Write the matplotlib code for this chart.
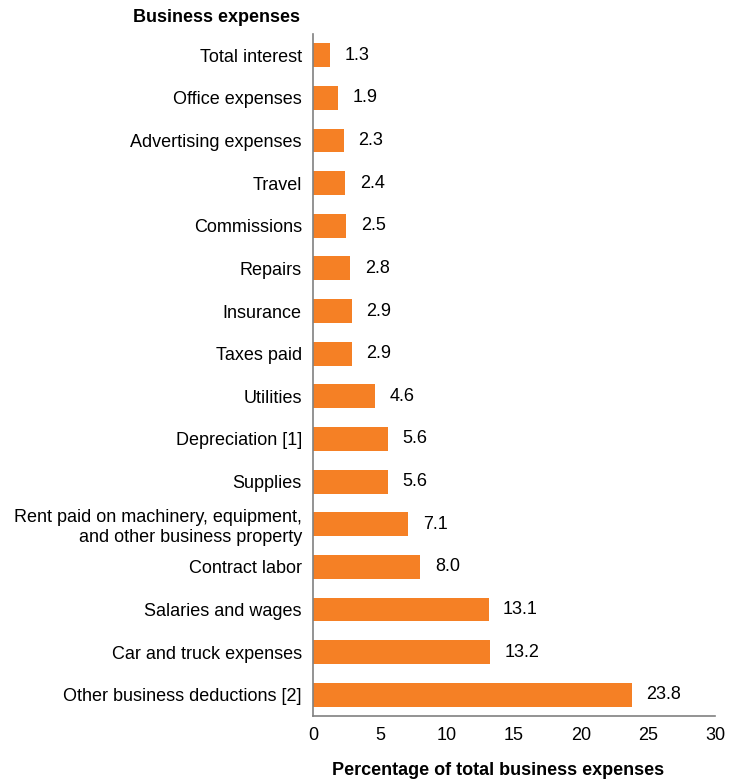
"""
Business expenses as a percentage of total business expenses
"""
import numpy as np
import matplotlib.pyplot as plt

plt.rcParams['font.family'] = ['Liberation Sans', 'DejaVu Sans']

categories = ['Other business deductions [2]', 'Car and truck expenses',
              'Salaries and wages', 'Contract labor',
              'Rent paid on machinery, equipment,\nand other business property',
              'Supplies', 'Depreciation [1]', 'Utilities', 'Taxes paid',
              'Insurance', 'Repairs', 'Commissions', 'Travel',
              'Advertising expenses', 'Office expenses', 'Total interest']
values = [23.8, 13.2, 13.1, 8.0, 7.1, 5.6, 5.6, 4.6, 2.9, 2.9, 2.8, 2.5, 2.4,
          2.3, 1.9, 1.3]
xticks = [0, 5, 10, 15, 20, 25, 30]

fig = plt.figure(figsize=(7.42, 7.81), dpi=100)
ax = fig.add_axes([0.4218, 0.0832, 0.5418, 0.8733])

y = np.arange(len(categories))
ax.barh(y, values, height=0.56, color='#F58025')
for yi, v in zip(y, values):
    ax.annotate('%.1f' % v, (v, yi), xytext=(10.5, 0), textcoords='offset points',
                va='center', ha='left', fontsize=13)

ax.set_xlim(0, 30)
ax.set_ylim(-0.5, 15.5)
ax.set_xticks(xticks)
ax.set_yticks(y)
ax.set_yticklabels(categories, fontsize=13, linespacing=1.2)
ax.tick_params(axis='x', length=0, labelsize=13, pad=8)
ax.tick_params(axis='y', length=0, pad=8)
for s in ['top', 'right']:
    ax.spines[s].set_visible(False)
for s in ['left', 'bottom']:
    ax.spines[s].set_color('#808080')
    ax.spines[s].set_linewidth(1.2)

ax.set_xlabel('Percentage of total business expenses', fontsize=13,
              fontweight='bold', labelpad=14)
ax.xaxis.set_label_coords(0.46, -0.067)
fig.text(0.4043, 0.978, 'Business expenses', fontsize=13, fontweight='bold',
         ha='right', va='center')

plt.savefig('out.png', dpi=100)
